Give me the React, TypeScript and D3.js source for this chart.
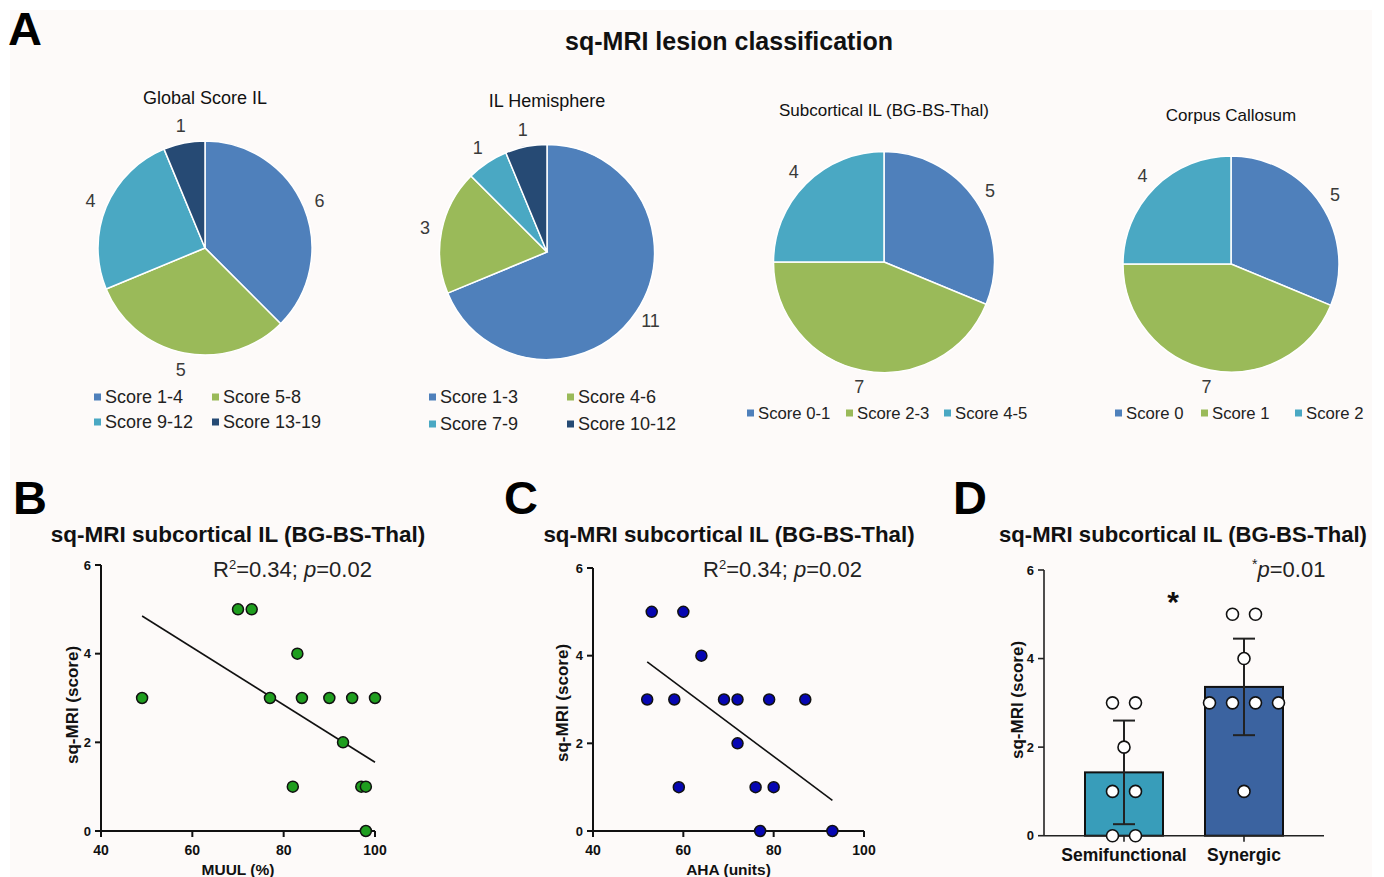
import React from "react";
import * as d3 from "d3";

// ---- data ----
const pieTitles = ["Global Score IL", "IL Hemisphere", "Subcortical IL (BG-BS-Thal)", "Corpus Callosum"];
const pieValues = [
  [6, 5, 4, 1],
  [11, 3, 1, 1],
  [5, 7, 4],
  [5, 7, 4],
];
const pieLegends = [
  ["Score 1-4", "Score 5-8", "Score 9-12", "Score 13-19"],
  ["Score 1-3", "Score 4-6", "Score 7-9", "Score 10-12"],
  ["Score 0-1", "Score 2-3", "Score 4-5"],
  ["Score 0", "Score 1", "Score 2"],
];
const pieColors = ["#4f80bb", "#9aba59", "#4aa8c3", "#264a74"];

const muul = [49, 70, 73, 83, 77, 84, 90, 95, 100, 93, 82, 97, 98, 98];
const muulScore = [3, 5, 5, 4, 3, 3, 3, 3, 3, 2, 1, 1, 1, 0];
const muulFit = [
  [49, 4.85],
  [100, 1.55],
];

const aha = [53, 60, 64, 52, 58, 69, 72, 79, 87, 72, 59, 76, 80, 77, 93];
const ahaScore = [5, 5, 4, 3, 3, 3, 3, 3, 3, 2, 1, 1, 1, 0, 0];
const ahaFit = [
  [52, 3.86],
  [93, 0.7],
];

const groups = ["Semifunctional", "Synergic"];
const groupMean = [1.43, 3.36];
const groupSd = [1.17, 1.09];
const groupPoints = [
  [3, 3, 2, 1, 1, 0, 0],
  [5, 5, 4, 3, 3, 3, 3, 1],
];
const groupColors = ["#389dba", "#3b63a0"];

const xTicks = [40, 60, 80, 100];
const yTicks = [0, 2, 4, 6];

const FONT = "Liberation Sans, Arial, Helvetica, sans-serif";

// ---- layout of the four pies ----
const pieLayout = [
  { cx: 205, cy: 248, r: 107, titleY: 98, titleSize: 18, legendSize: 18, legend: [[94, 397], [212, 397], [94, 422], [212, 422]] },
  { cx: 547, cy: 252, r: 107.5, titleY: 101, titleSize: 18, legendSize: 18, legend: [[429, 397], [567, 397], [429, 424], [567, 424]] },
  { cx: 884, cy: 262, r: 110.5, titleY: 110, titleSize: 17, legendSize: 16.7, legend: [[747, 413], [846, 413], [944, 413]] },
  { cx: 1231, cy: 264, r: 108, titleY: 115, titleSize: 17, legendSize: 16.7, legend: [[1115, 413], [1201, 413], [1295, 413]] },
];

function Pie({ idx }: { idx: number }) {
  const L = pieLayout[idx];
  const values = pieValues[idx];
  const arcs = d3.pie<number>().sort(null).value((d) => d)(values);
  const arc = d3.arc<d3.PieArcDatum<number>>().innerRadius(0).outerRadius(L.r);
  const labelArc = d3.arc<d3.PieArcDatum<number>>().innerRadius(L.r + 17).outerRadius(L.r + 17);
  return (
    <g fontFamily={FONT}>
      <text x={L.cx} y={L.titleY} textAnchor="middle" dominantBaseline="central" fontSize={L.titleSize} fill="#111">
        {pieTitles[idx]}
      </text>
      <g transform={`translate(${L.cx},${L.cy})`}>
        {arcs.map((a, i) => (
          <path key={i} d={arc(a) || ""} fill={pieColors[i]} stroke="#fff" strokeWidth={1.5} />
        ))}
        {arcs.map((a, i) => {
          const [lx, ly] = labelArc.centroid(a);
          return (
            <text key={"l" + i} x={lx} y={ly} textAnchor="middle" dominantBaseline="central" fontSize={18} fill="#3a3a3a">
              {a.data}
            </text>
          );
        })}
      </g>
      {pieLegends[idx].map((name, i) => {
        const [x, y] = L.legend[i];
        return (
          <g key={"g" + i}>
            <rect x={x} y={y - 3.5} width={7} height={7} fill={pieColors[i]} />
            <text x={x + 11} y={y} dominantBaseline="central" fontSize={L.legendSize} fill="#222">
              {name}
            </text>
          </g>
        );
      })}
    </g>
  );
}

function Axes({ x, y, xLabel, yLabelX, yLabelY }: any) {
  const [x0, x1] = x.range();
  const y0 = y(0);
  return (
    <g fontFamily={FONT} fontWeight="bold" fill="#111">
      <line x1={x0} x2={x1} y1={y0} y2={y0} stroke="#111" strokeWidth={2} />
      <line x1={x0} x2={x0} y1={y0} y2={y(6)} stroke="#111" strokeWidth={2} />
      {xTicks.map((t) => (
        <g key={"x" + t}>
          <line x1={x(t)} x2={x(t)} y1={y0} y2={y0 + 6} stroke="#111" strokeWidth={2} />
          <text x={x(t)} y={y0 + 19} textAnchor="middle" dominantBaseline="central" fontSize={14}>
            {t}
          </text>
        </g>
      ))}
      {yTicks.map((t) => (
        <g key={"y" + t}>
          <line x1={x0 - 6} x2={x0} y1={y(t)} y2={y(t)} stroke="#111" strokeWidth={2} />
          <text x={x0 - 10} y={y(t)} textAnchor="end" dominantBaseline="central" fontSize={13}>
            {t}
          </text>
        </g>
      ))}
      <text x={(x0 + x1) / 2} y={y0 + 38} textAnchor="middle" dominantBaseline="central" fontSize={15.5}>
        {xLabel}
      </text>
      <text
        transform={`translate(${yLabelX},${yLabelY}) rotate(-90)`}
        textAnchor="middle"
        dominantBaseline="central"
        fontSize={17}
      >
        sq-MRI (score)
      </text>
    </g>
  );
}

function Scatter({ xs, ys, fit, color, x, y, xLabel, yLabelX, yLabelY, rx }: any) {
  const line = d3
    .line<number[]>()
    .x((d) => x(d[0]))
    .y((d) => y(d[1]));
  return (
    <g>
      <Axes x={x} y={y} xLabel={xLabel} yLabelX={yLabelX} yLabelY={yLabelY} />
      <path d={line(fit) || ""} stroke="#111" strokeWidth={1.6} fill="none" />
      {xs.map((v: number, i: number) => (
        <circle key={i} cx={x(v)} cy={y(ys[i])} r={5.5} fill={color} stroke="#111" strokeWidth={1.5} />
      ))}
      <text x={rx} y={577} fontFamily={FONT} fontSize={22} fill="#222">
        R<tspan dy={-8} fontSize={13}>2</tspan>
        <tspan dy={8}>=0.34; </tspan>
        <tspan fontStyle="italic">p</tspan>=0.02
      </text>
    </g>
  );
}

function BarPanel() {
  const x = d3.scaleBand<string>().domain(groups).range([1061, 1307]).paddingInner(0.35).paddingOuter(0.2);
  const y = d3.scaleLinear().domain([0, 6]).range([835.7, 570]);
  const bw = x.bandwidth();
  return (
    <g fontFamily={FONT}>
      {groups.map((g, i) => {
        const left = x(g) as number;
        return (
          <g key={g}>
            <rect x={left} y={y(groupMean[i])} width={bw} height={y(0) - y(groupMean[i])} fill={groupColors[i]} stroke="#111" strokeWidth={2} />
          </g>
        );
      })}
      {/* axes */}
      <g fontWeight="bold" fill="#111">
        <line x1={1044} x2={1324} y1={y(0)} y2={y(0)} stroke="#222" strokeWidth={1.6} />
        <line x1={1044} x2={1044} y1={y(0)} y2={y(6)} stroke="#222" strokeWidth={1.6} />
        {yTicks.map((t) => (
          <g key={t}>
            <line x1={1038} x2={1044} y1={y(t)} y2={y(t)} stroke="#222" strokeWidth={1.6} />
            <text x={1034} y={y(t)} textAnchor="end" dominantBaseline="central" fontSize={13}>
              {t}
            </text>
          </g>
        ))}
        {groups.map((g) => {
          const cx = (x(g) as number) + bw / 2;
          return (
            <g key={g}>
              <line x1={cx} x2={cx} y1={y(0)} y2={y(0) + 6} stroke="#222" strokeWidth={1.6} />
              <text x={cx} y={855} textAnchor="middle" dominantBaseline="central" fontSize={17.5}>
                {g}
              </text>
            </g>
          );
        })}
        <text transform={`translate(1017,700) rotate(-90)`} textAnchor="middle" dominantBaseline="central" fontSize={17}>
          sq-MRI (score)
        </text>
      </g>
      {groups.map((g, i) => {
        const cx = (x(g) as number) + bw / 2;
        const hi = y(groupMean[i] + groupSd[i]);
        const lo = y(groupMean[i] - groupSd[i]);
        return (
          <g key={"e" + g} stroke="#222" strokeWidth={2}>
            <line x1={cx} x2={cx} y1={hi} y2={lo} />
            <line x1={cx - 11} x2={cx + 11} y1={hi} y2={hi} />
            <line x1={cx - 11} x2={cx + 11} y1={lo} y2={lo} />
          </g>
        );
      })}
      {groups.map((g, i) => {
        const cx = (x(g) as number) + bw / 2;
        const counts = d3.rollup(groupPoints[i], (v) => v.length, (d) => d);
        const seen = new Map<number, number>();
        return groupPoints[i].map((v, j) => {
          const n = counts.get(v) || 1;
          const k = seen.get(v) || 0;
          seen.set(v, k + 1);
          const off = (k - (n - 1) / 2) * 23;
          return <circle key={g + j} cx={cx + off} cy={y(v)} r={6} fill="#fff" stroke="#111" strokeWidth={1.6} />;
        });
      })}
      <text x={1173} y={612} textAnchor="middle" fontSize={30} fontWeight="bold" fill="#111">
        *
      </text>
      <text x={1252} y={577} fontSize={22} fill="#222">
        <tspan fontSize={14} dy={-8}>*</tspan>
        <tspan dy={8} fontStyle="italic">p</tspan>=0.01
      </text>
    </g>
  );
}

export default function App() {
  const xB = d3.scaleLinear().domain([40, 100]).range([101, 375]);
  const yB = d3.scaleLinear().domain([0, 6]).range([831, 565]);
  const xC = d3.scaleLinear().domain([40, 100]).range([593, 864]);
  const yC = d3.scaleLinear().domain([0, 6]).range([831, 568]);
  const panelTitle = "sq-MRI subcortical IL (BG-BS-Thal)";
  return (
    <svg width={1384} height={877} style={{ position: "absolute", left: 0, top: 0 }} fontFamily={FONT}>
      <rect x={0} y={0} width={1384} height={877} fill="#fff" />
      <rect x={10} y={10} width={1362} height={867} fill="#fdfaf9" />

      <text x={8} y={45} fontSize={47} fontWeight="bold" fill="#000">A</text>
      <text x={729} y={41} textAnchor="middle" dominantBaseline="central" fontSize={25} fontWeight="bold" fill="#111">
        sq-MRI lesion classification
      </text>
      {pieLayout.map((_, i) => (
        <Pie key={i} idx={i} />
      ))}

      <text x={13} y={514} fontSize={47} fontWeight="bold" fill="#000">B</text>
      <text x={504} y={514} fontSize={47} fontWeight="bold" fill="#000">C</text>
      <text x={953} y={514} fontSize={47} fontWeight="bold" fill="#000">D</text>

      <text x={238} y={534} textAnchor="middle" dominantBaseline="central" fontSize={22.5} fontWeight="bold" fill="#111">
        {panelTitle}
      </text>
      <text x={729} y={534} textAnchor="middle" dominantBaseline="central" fontSize={22.3} fontWeight="bold" fill="#111">
        {panelTitle}
      </text>
      <text x={1183} y={534} textAnchor="middle" dominantBaseline="central" fontSize={22.1} fontWeight="bold" fill="#111">
        {panelTitle}
      </text>

      <Scatter xs={muul} ys={muulScore} fit={muulFit} color="#1f9e1f" x={xB} y={yB} xLabel="MUUL (%)" yLabelX={72} yLabelY={705} rx={213} />
      <Scatter xs={aha} ys={ahaScore} fit={ahaFit} color="#0606b2" x={xC} y={yC} xLabel="AHA (units)" yLabelX={562} yLabelY={703} rx={703} />
      <BarPanel />
    </svg>
  );
}
